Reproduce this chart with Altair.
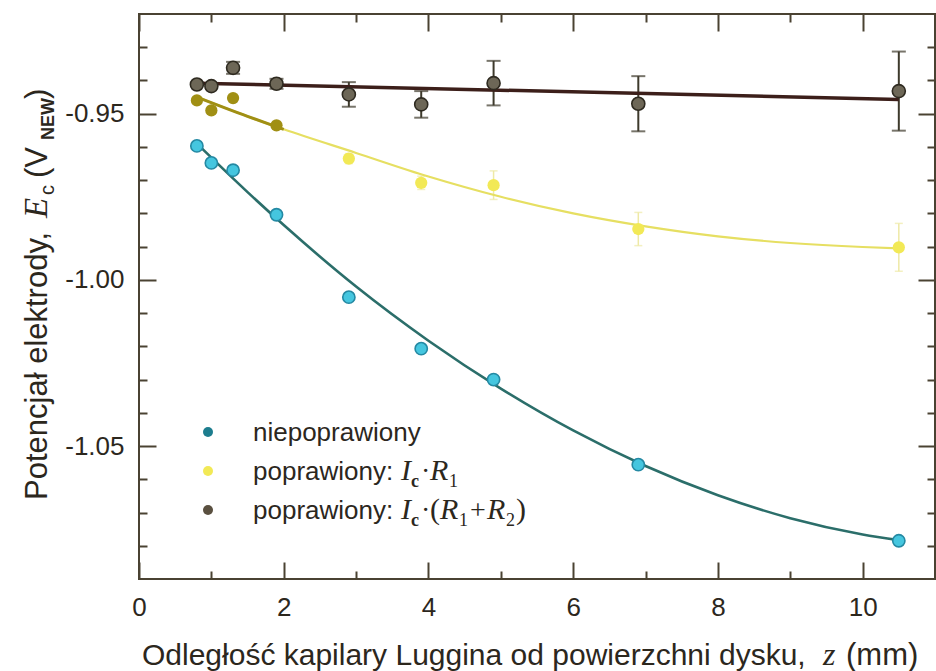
import altair as alt
import pandas as pd

# ---------------- data ----------------
z = [0.8, 1.0, 1.3, 1.9, 2.9, 3.9, 4.9, 6.9, 10.5]
e_uncorr = [-0.9597, -0.9648, -0.9670, -0.9804, -1.0052, -1.0207, -1.0300, -1.0556, -1.0785]
e_corr_r1 = [-0.9460, -0.9490, -0.9453, -0.9535, -0.9635, -0.9708, -0.9715, -0.9847, -0.9902]
err_corr_r1 = [0.0, 0.0, 0.0, 0.0, 0.0015, 0.0020, 0.0043, 0.0050, 0.0072]
e_corr_r12 = [-0.9412, -0.9417, -0.9362, -0.9410, -0.9442, -0.9472, -0.9408, -0.9470, -0.9432]
err_corr_r12 = [0.0, 0.0, 0.0018, 0.0015, 0.0037, 0.0040, 0.0067, 0.0083, 0.0119]

fit_z = [0.8, 1.5, 2.0, 3.0, 4.0, 5.0, 6.0, 7.0, 8.0, 9.0, 10.0, 10.5]
fit_uncorr = [-0.9590, -0.9736, -0.9835, -1.0020, -1.0183, -1.0327, -1.0453, -1.0560,
              -1.0648, -1.0717, -1.0766, -1.0783]
fit_corr_r1 = [-0.9450, -0.9508, -0.9547, -0.9618, -0.9689, -0.9750, -0.9800, -0.9839,
               -0.9869, -0.9889, -0.9901, -0.9905]
line_z = [0.8, 10.5]
line_corr_r12 = [-0.9408, -0.9457]

x_major = [0, 2, 4, 6, 8, 10]
x_minor = [1, 3, 5, 7, 9]
y_major = [-1.05, -1.00, -0.95]
y_minor = [-1.08, -1.07, -1.06, -1.04, -1.03, -1.02, -1.01,
           -0.99, -0.98, -0.97, -0.96, -0.94, -0.93]

# ---------------- tables ----------------
pts = pd.DataFrame({"z": z, "raw": e_uncorr, "r1": e_corr_r1, "r1_err": err_corr_r1,
                    "r12": e_corr_r12, "r12_err": err_corr_r12})
pts["r1_lo"] = pts["r1"] - pts["r1_err"]
pts["r1_hi"] = pts["r1"] + pts["r1_err"]
pts["r12_lo"] = pts["r12"] - pts["r12_err"]
pts["r12_hi"] = pts["r12"] + pts["r12_err"]
fit = pd.DataFrame({"z": fit_z, "raw": fit_uncorr, "r1": fit_corr_r1})
lin = pd.DataFrame({"z": line_z, "r12": line_corr_r12})
one = pd.DataFrame({"k": [0]})

# ---------------- style ----------------
AX = "#4a4232"
TXT = "#2c271d"
SANS = "Liberation Sans"
SERIF = "Liberation Serif"
CYAN_FILL, CYAN_EDGE, CYAN_LINE, CYAN_LEG = "#45c6df", "#2489a3", "#2b6e6a", "#1d7d8e"
YEL_FILL, YEL_LINE, YEL_ERR, OLIVE = "#f2e956", "#e6df62", "#eee9a6", "#a08f14"
BR_FILL, BR_EDGE, BR_LINE, BR_LEG = "#6d6757", "#2e2a20", "#3c1f1a", "#5a5040"

XS = alt.Scale(domain=[0, 11], nice=False, zero=False)
YS = alt.Scale(domain=[-1.09, -0.92], nice=False, zero=False)


def X(f, axis=None):
    return alt.X(f, type="quantitative", scale=XS, axis=axis)


def Y(f, axis=None):
    return alt.Y(f, type="quantitative", scale=YS, axis=axis)


common = dict(domain=False, grid=False, tickColor=AX, tickWidth=2, title=None,
              labelFlush=False, labelOverlap=False)
lab = dict(labelFont=SANS, labelFontSize=26, labelColor=TXT)

xb_major = alt.Axis(orient="bottom", values=x_major, tickSize=17, offset=-17, labels=True,
                    labelPadding=15, format="d", **lab, **common)
xb_minor = alt.Axis(orient="bottom", values=x_minor, tickSize=8, offset=-8, labels=False, **common)
xt_major = alt.Axis(orient="top", values=x_major, tickSize=17, offset=-17, labels=False, **common)
xt_minor = alt.Axis(orient="top", values=x_minor, tickSize=8, offset=-8, labels=False, **common)
yl_major = alt.Axis(orient="left", values=y_major, tickSize=17, offset=-17, labels=True,
                    labelPadding=15, labelExpr="'-' + format(abs(datum.value), '.2f')",
                    **lab, **common)
yl_minor = alt.Axis(orient="left", values=y_minor, tickSize=8, offset=-8, labels=False, **common)
yr_major = alt.Axis(orient="right", values=y_major, tickSize=17, offset=-17, labels=False, **common)
yr_minor = alt.Axis(orient="right", values=y_minor, tickSize=8, offset=-8, labels=False, **common)


def axis_layer(xa, ya):
    return alt.Chart(pts).mark_point(opacity=0).encode(x=X("z", xa), y=Y("raw", ya))


axes = [axis_layer(xb_major, yl_major), axis_layer(xb_minor, yl_minor),
        axis_layer(xt_major, yr_major), axis_layer(xt_minor, yr_minor)]

# ---------------- data layers ----------------
err_r1 = alt.Chart(pts).transform_filter("datum.r1_err > 0").mark_errorbar(
    ticks=True, color=YEL_ERR, thickness=1.5, size=8
).encode(x=X("z"), y=Y("r1_lo"), y2="r1_hi")

err_r12 = alt.Chart(pts).transform_filter("datum.r12_err > 0").mark_errorbar(
    ticks=True, color="#3e3a2c", thickness=2, size=14
).encode(x=X("z"), y=Y("r12_lo"), y2="r12_hi")

fit_r1_line = alt.Chart(fit).mark_line(color=YEL_LINE, strokeWidth=2.2, interpolate="monotone").encode(
    x=X("z"), y=Y("r1"))
fit_r1_olive = alt.Chart(fit).transform_filter("datum.z <= 2.0").mark_line(
    color=OLIVE, strokeWidth=3, interpolate="monotone").encode(x=X("z"), y=Y("r1"))
fit_raw_line = alt.Chart(fit).mark_line(color=CYAN_LINE, strokeWidth=2.6, interpolate="monotone").encode(
    x=X("z"), y=Y("raw"))
r12_line = alt.Chart(lin).mark_line(color=BR_LINE, strokeWidth=3.5).encode(x=X("z"), y=Y("r12"))

p_raw = alt.Chart(pts).mark_point(filled=True, shape="circle", size=150, fill=CYAN_FILL,
                                  stroke=CYAN_EDGE, strokeWidth=1.6, opacity=1).encode(
    x=X("z"), y=Y("raw"))
p_r1 = alt.Chart(pts).mark_circle(size=150, opacity=1).encode(
    x=X("z"), y=Y("r1"),
    color=alt.condition("datum.z < 2", alt.value(OLIVE), alt.value(YEL_FILL)))
p_r12 = alt.Chart(pts).mark_point(filled=True, shape="circle", size=170, fill=BR_FILL,
                                  stroke=BR_EDGE, strokeWidth=1.6, opacity=1).encode(
    x=X("z"), y=Y("r12"))


# ---------------- text helpers (legend / axis titles) ----------------
def txt(s, x, y, size, font=SANS, style="normal", weight="normal", angle=0, align="left"):
    return alt.Chart(one).mark_text(text=s, font=font, fontSize=size, fontStyle=style,
                                    fontWeight=weight, angle=angle, color=TXT, align=align,
                                    baseline="alphabetic").encode(
        x=alt.value(x), y=alt.value(y))


def dot(x, y, color):
    return alt.Chart(one).mark_circle(size=100, color=color, opacity=1).encode(
        x=alt.value(x), y=alt.value(y))


O = 139  # plot origin (left)
T = 14   # plot origin (top)

legend = [
    dot(208 - O, 432 - T, CYAN_LEG), dot(208 - O, 471 - T, YEL_FILL), dot(208 - O, 510 - T, BR_LEG),
    txt("niepoprawiony", 253 - O, 441 - T, 26),
    txt("poprawiony:", 253 - O, 480 - T, 26),
    txt("I", 401 - O, 480 - T, 30, SERIF, "italic"),
    txt("c", 411 - O, 487 - T, 18, SERIF, weight="bold"),
    txt("·", 421 - O, 480 - T, 28, SERIF),
    txt("R", 430 - O, 480 - T, 30, SERIF, "italic"),
    txt("1", 449 - O, 487 - T, 18, SERIF),
    txt("poprawiony:", 253 - O, 519 - T, 26),
    txt("I", 401 - O, 519 - T, 30, SERIF, "italic"),
    txt("c", 411 - O, 526 - T, 18, SERIF, weight="bold"),
    txt("·", 421 - O, 519 - T, 28, SERIF),
    txt("(", 430 - O, 519 - T, 30, SERIF),
    txt("R", 440 - O, 519 - T, 30, SERIF, "italic"),
    txt("1", 459 - O, 526 - T, 18, SERIF),
    txt("+", 470 - O, 519 - T, 28, SERIF),
    txt("R", 487 - O, 519 - T, 30, SERIF, "italic"),
    txt("2", 506 - O, 526 - T, 18, SERIF),
    txt(")", 516 - O, 519 - T, 30, SERIF),
]

xtitle = [
    txt("Odległość kapilary Luggina od powierzchni dysku,", 142 - O, 665 - T, 30),
    txt("z", 823 - O, 665 - T, 32, SERIF, "italic"),
    txt("(mm)", 846 - O, 665 - T, 31),
]

YB = 47 - O  # baseline x of rotated title
ytitle = [
    txt("Potencjał elektrody,", YB, 500 - T, 31, angle=270),
    txt("E", YB, 218 - T, 33, SERIF, "italic", angle=270),
    txt("c", YB + 7, 195 - T, 20, angle=270),
    txt("(V", YB, 178 - T, 31, angle=270),
    txt("NEW", YB + 7, 140 - T, 18, weight="bold", angle=270),
    txt(")", YB, 99 - T, 31, angle=270),
]

chart = alt.layer(
    *axes,
    err_r1, fit_r1_line, fit_r1_olive, fit_raw_line, err_r12, r12_line,
    p_r1, p_raw, p_r12,
    *legend, *xtitle, *ytitle,
).resolve_axis(x="independent", y="independent").properties(
    width=796, height=565,
    autosize=alt.AutoSizeParams(type="none"),
    padding={"left": O, "top": T, "right": 1, "bottom": 92},
    background="white",
).configure_view(stroke=AX, strokeWidth=2)

chart.save("out.html", embed_options={"renderer": "svg", "actions": False})
